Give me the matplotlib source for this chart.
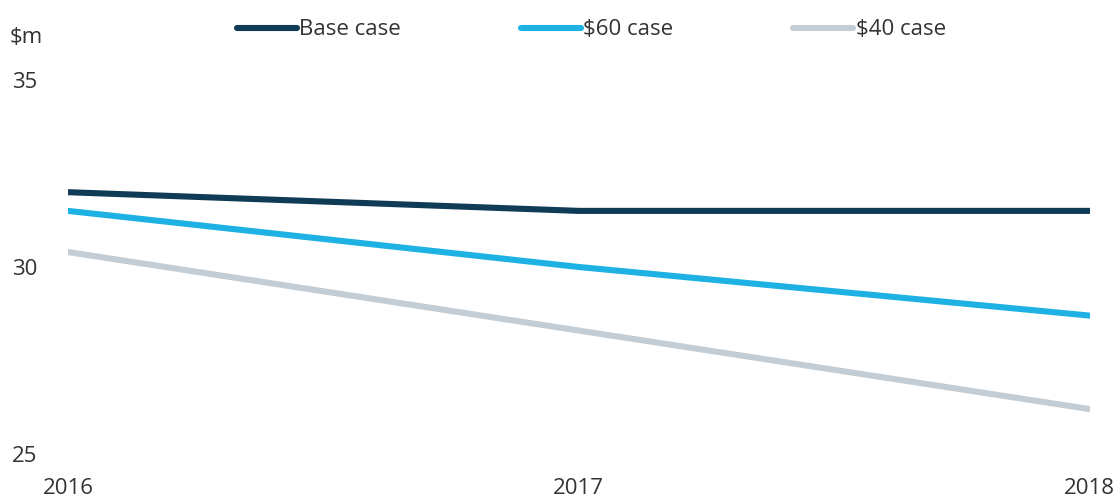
import matplotlib
matplotlib.use("Agg")
import matplotlib.pyplot as plt

years = [2016, 2017, 2018]
base_case = [32.0, 31.5, 31.5]
case_60 = [31.5, 30.0, 28.7]
case_40 = [30.4, 28.3, 26.2]
series_labels = ["Base case", "$60 case", "$40 case"]
colors = ["#0f3b57", "#1eb1e3", "#c3cdd5"]
y_ticks = [25, 30, 35]

plt.rcParams['font.family'] = ['Open Sans', 'DejaVu Sans']
txt = "#333333"

fig = plt.figure(figsize=(11.2, 4.99), dpi=100)
ax = fig.add_axes([0.0607, 0.0902, 0.9123, 0.7495])

for vals, lab, c in zip([base_case, case_60, case_40], series_labels, colors):
    ax.plot(years, vals, color=c, lw=4.4, label=lab, solid_capstyle='round')

ax.set_xlim(2016, 2018)
ax.set_ylim(25, 35)
ax.set_xticks(years)
ax.set_xticklabels([str(y) for y in years])
ax.set_yticks(y_ticks)
ax.set_yticklabels([str(t) for t in y_ticks])
for s in ax.spines.values():
    s.set_visible(False)
ax.tick_params(axis='both', length=0, labelsize=16, colors=txt)
ax.tick_params(axis='x', pad=17)
ax.tick_params(axis='y', pad=22)

fig.text(0.009, 0.924, "$m", fontsize=16, color=txt, ha='left', va='center')

fig.legend(loc='center', bbox_to_anchor=(0.528, 0.94), ncol=3, frameon=False,
           fontsize=16, handlelength=2.7, handletextpad=0.1, columnspacing=5.4,
           labelcolor=txt)

fig.savefig("out.png", dpi=100)
